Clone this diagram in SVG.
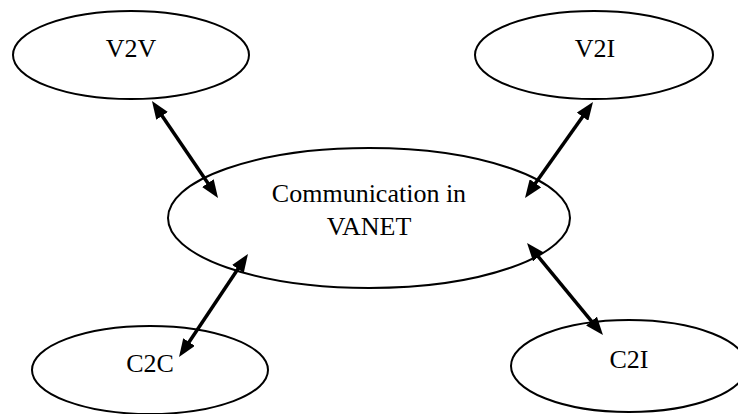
<svg xmlns="http://www.w3.org/2000/svg" width="738" height="414" viewBox="0 0 738 414">
  <style>
    .node ellipse { fill: #ffffff; stroke: #000000; stroke-width: 2; }
    .node text { font-family: "Liberation Serif", "Times New Roman", serif; font-size: 26px; fill: #000000; text-anchor: middle; }
    .conn line { stroke: #000000; stroke-width: 3.5; marker-start: url(#head); marker-end: url(#head); }
  </style>
  <defs>
    <marker id="head" viewBox="0 0 18 14" markerWidth="18" markerHeight="14" refX="8" refY="7" orient="auto-start-reverse" markerUnits="userSpaceOnUse">
      <path d="M0,0 L18,7 L0,14 z" fill="#000000"/>
    </marker>
  </defs>
  <rect width="738" height="414" fill="#ffffff"/>
  <g id="v2v" class="node">
    <ellipse cx="131" cy="55" rx="118" ry="44"/>
    <text x="131" y="57">V2V</text>
  </g>
  <g id="v2i" class="node">
    <ellipse cx="594" cy="55" rx="119" ry="44"/>
    <text x="595" y="57">V2I</text>
  </g>
  <g id="center" class="node">
    <ellipse cx="369" cy="218" rx="201" ry="70"/>
    <text x="369" y="202">Communication in</text>
    <text x="369" y="235">VANET</text>
  </g>
  <g id="c2c" class="node">
    <ellipse cx="150" cy="370" rx="118" ry="44"/>
    <text x="150" y="372">C2C</text>
  </g>
  <g id="c2i" class="node">
    <ellipse cx="629" cy="366" rx="118" ry="46"/>
    <text x="629" y="368">C2I</text>
  </g>
  <g id="connectors" class="conn">
    <line x1="157.6" y1="109.3" x2="212.4" y2="189.7"/>
    <line x1="587.2" y1="110.2" x2="530.8" y2="189.8"/>
    <line x1="242.4" y1="262.3" x2="184.6" y2="348.7"/>
    <line x1="533.4" y1="250.7" x2="596.6" y2="327.3"/>
  </g>
</svg>
